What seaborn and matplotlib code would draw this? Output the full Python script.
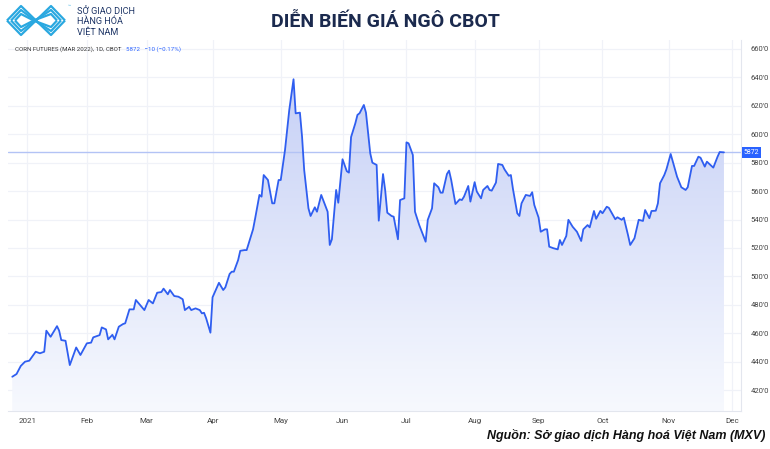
import numpy as np
import pandas as pd
import matplotlib
matplotlib.use("Agg")
import matplotlib.pyplot as plt
import matplotlib.dates as mdates
from matplotlib.colors import LinearSegmentedColormap
from matplotlib.transforms import blended_transform_factory
import seaborn as sns

# giá ngô CBOT (cent/giạ)
ngay = [
    "2020-12-28", "2020-12-30", "2021-01-01", "2021-01-03", "2021-01-05", "2021-01-08", "2021-01-10", "2021-01-12",
    "2021-01-13", "2021-01-15", "2021-01-18", "2021-01-19", "2021-01-20", "2021-01-22", "2021-01-24", "2021-01-27",
    "2021-01-29",
    "2021-02-01", "2021-02-03", "2021-02-04", "2021-02-07", "2021-02-08", "2021-02-10", "2021-02-11", "2021-02-13",
    "2021-02-14", "2021-02-16", "2021-02-18", "2021-02-19", "2021-02-21", "2021-02-23", "2021-02-24", "2021-02-28",
    "2021-03-02", "2021-03-04", "2021-03-06", "2021-03-08", "2021-03-09", "2021-03-11", "2021-03-12", "2021-03-14",
    "2021-03-16", "2021-03-18", "2021-03-19", "2021-03-21", "2021-03-22", "2021-03-24", "2021-03-26", "2021-03-27",
    "2021-03-28", "2021-03-29", "2021-03-31",
    "2021-04-01", "2021-04-04", "2021-04-06", "2021-04-07", "2021-04-09", "2021-04-10", "2021-04-11", "2021-04-13",
    "2021-04-14", "2021-04-16", "2021-04-17", "2021-04-20", "2021-04-21", "2021-04-23", "2021-04-24", "2021-04-25",
    "2021-04-27", "2021-04-29", "2021-04-30",
    "2021-05-02", "2021-05-03", "2021-05-05", "2021-05-07", "2021-05-09", "2021-05-10", "2021-05-12", "2021-05-13",
    "2021-05-14", "2021-05-16", "2021-05-17", "2021-05-19", "2021-05-20", "2021-05-22", "2021-05-23", "2021-05-25",
    "2021-05-26", "2021-05-27", "2021-05-29", "2021-05-30",
    "2021-06-01", "2021-06-03", "2021-06-04", "2021-06-05", "2021-06-07", "2021-06-08", "2021-06-09", "2021-06-11",
    "2021-06-12", "2021-06-14", "2021-06-15", "2021-06-17", "2021-06-18", "2021-06-20", "2021-06-21", "2021-06-22",
    "2021-06-24", "2021-06-25", "2021-06-27", "2021-06-28", "2021-06-30",
    "2021-07-01", "2021-07-02", "2021-07-04", "2021-07-05", "2021-07-07", "2021-07-10", "2021-07-11", "2021-07-13",
    "2021-07-14", "2021-07-16", "2021-07-17", "2021-07-18", "2021-07-20", "2021-07-21", "2021-07-22", "2021-07-24",
    "2021-07-26", "2021-07-27", "2021-07-28", "2021-07-30", "2021-07-31",
    "2021-08-02", "2021-08-03", "2021-08-05", "2021-08-06", "2021-08-08", "2021-08-09", "2021-08-10", "2021-08-12",
    "2021-08-13", "2021-08-15", "2021-08-16", "2021-08-18", "2021-08-19", "2021-08-20", "2021-08-22", "2021-08-23",
    "2021-08-24", "2021-08-26", "2021-08-28", "2021-08-29", "2021-08-30",
    "2021-09-01", "2021-09-02", "2021-09-04", "2021-09-05", "2021-09-06", "2021-09-08", "2021-09-10", "2021-09-11",
    "2021-09-12", "2021-09-14", "2021-09-15", "2021-09-17", "2021-09-19", "2021-09-21", "2021-09-22", "2021-09-24",
    "2021-09-25", "2021-09-27", "2021-09-28", "2021-09-30",
    "2021-10-01", "2021-10-03", "2021-10-04", "2021-10-07", "2021-10-08", "2021-10-10", "2021-10-11", "2021-10-13",
    "2021-10-14", "2021-10-16", "2021-10-18", "2021-10-20", "2021-10-21", "2021-10-23", "2021-10-24", "2021-10-26",
    "2021-10-27", "2021-10-28", "2021-10-30", "2021-10-31",
    "2021-11-02", "2021-11-03", "2021-11-05", "2021-11-07", "2021-11-09", "2021-11-10", "2021-11-12", "2021-11-13",
    "2021-11-15", "2021-11-16", "2021-11-18", "2021-11-19", "2021-11-22", "2021-11-24", "2021-11-25", "2021-11-27",
]
gia = [
    429.4, 431.3, 437.0, 440.0, 440.7, 447.0, 445.9, 447.0, 461.8, 457.5, 465.0, 461.8, 455.2, 454.7, 437.6, 450.0,
    444.7,
    452.9, 453.4, 457.1, 458.7, 464.1, 462.7, 455.7, 458.9, 455.7, 464.6, 466.5, 467.0, 476.8, 476.8, 483.4, 476.3,
    483.4, 481.0, 488.5, 489.0, 491.4, 487.4, 490.4, 486.2, 485.7, 483.9, 476.3, 478.6, 476.3, 477.5, 476.3, 474.0,
    474.4, 470.5, 460.4,
    485.3, 495.5, 490.4, 492.3, 501.7, 503.3, 503.3, 511.5, 518.0, 518.5, 518.5, 533.1, 540.9, 557.3, 556.1, 571.3,
    567.8, 551.4, 551.4,
    567.8, 567.8, 588.9, 617.1, 638.7, 614.7, 615.2, 598.3, 574.9, 547.9, 542.5, 548.6, 545.5, 557.3, 553.3, 545.5,
    522.1, 526.1, 560.8, 551.8,
    582.4, 574.0, 573.0, 598.0, 607.7, 613.6, 614.8, 620.6, 615.2, 586.6, 580.0, 578.4, 539.2, 572.0, 560.8, 544.8,
    542.5, 542.0, 526.1, 553.7, 554.9,
    594.3, 593.6, 585.4, 545.5, 536.1, 524.4, 539.8, 547.9, 565.5, 562.7, 558.9, 558.9, 572.0, 574.4, 567.8, 550.9,
    554.2, 553.7, 556.1, 563.6, 552.6,
    566.3, 559.7, 554.9, 560.8, 563.6, 560.8, 560.3, 566.0, 579.1, 578.4, 575.3, 570.8, 571.3, 561.3, 544.4, 542.5,
    551.4, 557.3, 556.6, 559.2, 550.2,
    541.4, 531.4, 533.1, 533.1, 520.9, 519.8, 519.0, 525.6, 522.1, 528.4, 539.8, 534.9, 531.4, 524.9, 533.1, 536.1,
    534.5, 546.0, 540.5, 546.1,
    544.4, 549.0, 548.2, 540.2, 541.6, 539.8, 541.3, 528.9, 522.1, 526.8, 539.8, 539.0, 546.7, 540.9, 546.0, 546.2,
    551.4, 565.5, 571.3, 575.3,
    586.1, 580.7, 570.1, 562.7, 560.8, 562.7, 577.7, 577.7, 584.2, 583.5, 577.2, 580.7, 576.5, 584.2, 587.5, 587.25,
]
gia_cuoi = 587.25

thang_ngay = ["2021-01-04", "2021-02-01", "2021-03-01", "2021-04-01", "2021-05-03", "2021-06-01",
              "2021-07-01", "2021-08-02", "2021-09-01", "2021-10-01", "2021-11-01", "2021-12-01"]
thang_nhan = ["2021", "Feb", "Mar", "Apr", "May", "Jun", "Jul", "Aug", "Sep", "Oct", "Nov", "Dec"]
muc_gia = list(range(420, 661, 20))

df = pd.DataFrame({"ngay": pd.to_datetime(ngay), "gia": gia})

sns.set_theme(style="white")
plt.rcParams['font.family'] = ['Roboto', 'DejaVu Sans']

fig = plt.figure(figsize=(7.7, 4.49), dpi=100)
ax = fig.add_axes([8 / 770, 1 - 411 / 449, (741 - 8) / 770, (411 - 40) / 449])

xmin = mdates.date2num(pd.Timestamp("2020-12-26"))
xmax = mdates.date2num(pd.Timestamp("2021-12-05"))
ylo, yhi = 405.3, 666.3

# lưới
for d in thang_ngay:
    ax.axvline(pd.Timestamp(d), color="#f0f2f8", lw=0.9, zorder=0)
for v in muc_gia:
    ax.axhline(v, color="#f0f2f8", lw=0.9, zorder=0)

# vùng tô gradient
vung = ax.fill_between(df["ngay"], df["gia"], ylo, color="none", lw=0)
duong_bao = vung.get_paths()[0]
cmap = LinearSegmentedColormap.from_list("g", ["#f7f9fe", "#c6d0f6"])
grad = np.linspace(0, 1, 256).reshape(-1, 1)
im = ax.imshow(grad, aspect="auto", cmap=cmap, origin="lower",
               extent=[xmin, xmax, ylo, 642], zorder=1)
im.set_clip_path(duong_bao, transform=ax.transData)

sns.lineplot(data=df, x="ngay", y="gia", ax=ax, color="#2f5ef0", lw=1.3, zorder=3)

ax.axhline(gia_cuoi, color="#b3c3f5", lw=1.0, zorder=2)

ax.set_xlim(xmin, xmax)
ax.set_ylim(ylo, yhi)
ax.set_xlabel("")
ax.set_ylabel("")

ax.set_xticks(pd.to_datetime(thang_ngay))
ax.set_xticklabels(thang_nhan)
ax.set_yticks(muc_gia)
ax.set_yticklabels([f"{v}'0" for v in muc_gia])
ax.yaxis.tick_right()
ax.tick_params(axis="y", length=0, pad=7, labelsize=5.5, labelcolor="#444444")
ax.tick_params(axis="x", length=0, pad=5, labelsize=5.8, labelcolor="#444444")

for s in ["left", "top"]:
    ax.spines[s].set_visible(False)
for s in ["right", "bottom"]:
    ax.spines[s].set_color("#e3e6ee")
    ax.spines[s].set_linewidth(0.8)

# nhãn giá cuối
tr = blended_transform_factory(ax.transAxes, ax.transData)
ax.text(1.004, gia_cuoi, "5872", transform=tr, ha="left", va="center", fontsize=5,
        color="white", zorder=5,
        bbox=dict(boxstyle="square,pad=0.25", fc="#2962ff", ec="none"))

# dòng tiêu đề của biểu đồ
t1 = fig.text(15 / 770, 1 - 49 / 449, "CORN FUTURES (MAR 2022), 1D, CBOT", fontsize=4.4,
              color="#333333", va="center", ha="left")
fig.add_artist(plt.Annotation("5872   \u221210 (\u22120.17%)", xy=(1, 0.5), xycoords=t1,
                              xytext=(3, 0), textcoords="offset points",
                              fontsize=4.4, color="#2962ff", va="center", ha="left"))

fig.text(385 / 770, 1 - 22 / 449, "DIỄN BIẾN GIÁ NGÔ CBOT", fontsize=14, fontweight="bold",
         color="#1b2a4e", ha="center", va="center")

fig.text(765 / 770, 1 - 436 / 449, "Nguồn: Sở giao dịch Hàng hoá Việt Nam (MXV)",
         family=["Liberation Sans", "DejaVu Sans"], fontsize=9, fontweight="bold",
         style="italic", color="#111111", ha="right", va="center")

# logo
lg = fig.add_axes([4 / 770, 1 - 37 / 449, 68 / 770, 33 / 449])
lg.set_xlim(0, 68)
lg.set_ylim(0, 33)
lg.axis("off")
for k in range(3):
    o = k * 4.0
    xs = [3 + o, 17, 32 - o * 0.3, 47, 61 - o]
    ys = [16.5, 31 - o, 16.5, 31 - o, 16.5]
    lg.plot(xs, ys, color="#2aa8e0", lw=1.6, solid_capstyle="butt")
    ys2 = [16.5, 2 + o, 16.5, 2 + o, 16.5]
    lg.plot(xs, ys2, color="#2aa8e0", lw=1.6, solid_capstyle="butt")
lg.text(64, 30, "™", fontsize=3.5, color="#2aa8e0", ha="left", va="center")

for i, dong in enumerate(["SỞ GIAO DỊCH", "HÀNG HÓA", "VIỆT NAM"]):
    fig.text(77 / 770, 1 - (14 + i * 10.5) / 449, dong, fontsize=6.6, color="#1e3566",
             ha="left", va="baseline")

fig.savefig("out.png", dpi=100)
